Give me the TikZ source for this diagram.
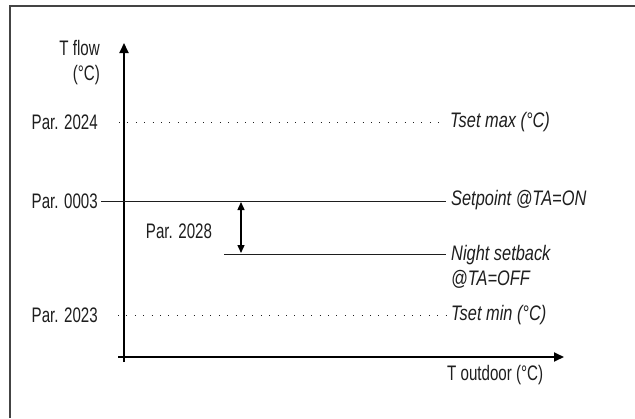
\documentclass[tikz,border=0pt]{standalone}
\usepackage{fontspec}
\setmainfont[FakeStretch=0.72,ItalicFeatures={FakeStretch=0.78}]{Liberation Sans}
\usetikzlibrary{arrows.meta}
\definecolor{txt}{HTML}{1E1E1E}
\definecolor{frm}{HTML}{444444}
\begin{document}
\begin{tikzpicture}[x=1pt,y=-1pt,
  lbl/.style={inner sep=0pt,text=txt,font=\fontsize{21}{25}\selectfont},
  ilbl/.style={lbl,font=\fontsize{21}{25}\selectfont\itshape},
  axis/.style={line width=1.8pt,-{Triangle[length=10pt,width=9pt]}},
  dotline/.style={line width=0.9pt,dash pattern=on 0.9pt off 7.5pt,txt},
  solidline/.style={line width=0.9pt,txt},
  dbl/.style={line width=1.4pt,{Triangle[length=8pt,width=7pt]}-{Triangle[length=8pt,width=7pt]}}]
\useasboundingbox (0,0) rectangle (635,418);
\fill[white] (0,0) rectangle (635,418);
% frame
\draw[frm,line width=1.5pt] (10,418) -- (10,6) -- (635,6);
% axes
\coordinate (ybot) at (124,362);
\coordinate (ytop) at (124,43);
\coordinate (xl) at (118,357);
\coordinate (xr) at (564,357);
\draw[axis] (ybot) -- (ytop);
\draw[axis] (xl) -- (xr);
% left labels
\node[lbl,anchor=east,align=right] (tflow) at (100,63) {T flow\\(°C)};
\node[lbl,anchor=east] (p2024) at (98,122) {Par. 2024};
\node[lbl,anchor=east] (p0003) at (98,201) {Par. 0003};
\node[lbl,anchor=east] (p2023) at (98,315) {Par. 2023};
\node[lbl] (p2028) at (179,231) {Par. 2028};
% right labels
\node[ilbl,anchor=west] (tmax) at (450,122) {Tset max (°C)};
\node[ilbl,anchor=west] (setp) at (451,200) {Setpoint @TA=ON};
\node[ilbl,anchor=west,align=left] (night) at (451,266.5) {Night setback\\@TA=OFF};
\node[ilbl,anchor=west] (tmin) at (451,315) {Tset min (°C)};
\node[lbl,anchor=west] (tout) at (447,375) {T outdoor (°C)};
% level lines
\coordinate (d1) at (119,122);
\coordinate (d2) at (118,315);
\coordinate (n1) at (224,254);
\coordinate (n2) at (446,254);
\draw[dotline] (d1) -- (446,122);
\draw[dotline] (d2) -- (446,315);
\draw[solidline] (p0003.east) ++(3,0) -- (446,201);
\draw[solidline] (n1) -- (n2);
% double arrow
\coordinate (a1) at (241,202);
\coordinate (a2) at (241,253);
\draw[dbl] (a1) -- (a2);
\end{tikzpicture}
\end{document}
